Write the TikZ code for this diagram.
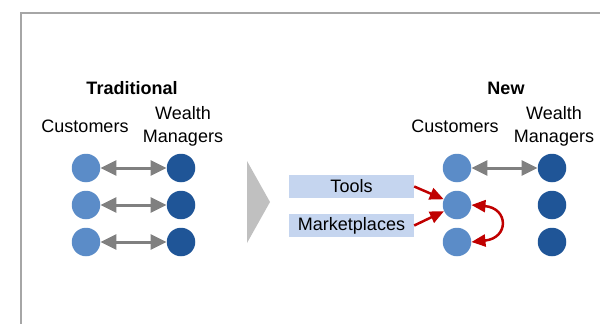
\documentclass[tikz,border=0pt]{standalone}
\usepackage{fontspec}
\setmainfont{Liberation Sans}
\usetikzlibrary{arrows.meta,positioning,calc}

\definecolor{custBlue}{HTML}{5B8CC8}
\definecolor{mgrBlue}{HTML}{1F5597}
\definecolor{boxBlue}{HTML}{C5D5EF}
\definecolor{linkGray}{HTML}{808080}
\definecolor{frameGray}{HTML}{A6A6A6}
\definecolor{chevGray}{HTML}{C0C0C0}
\definecolor{newRed}{HTML}{C00000}

\begin{document}
\begin{tikzpicture}[
    x=1pt, y=-1pt, font=\fontsize{18}{23}\selectfont,
    % Styles
    custNode/.style={circle, fill=custBlue, minimum size=28.5pt, inner sep=0pt},
    mgrNode/.style={circle, fill=mgrBlue, minimum size=28.5pt, inner sep=0pt},
    headNode/.style={font=\fontsize{18}{23}\selectfont\bfseries},
    toolNode/.style={fill=boxBlue, minimum width=125pt, minimum height=23pt, inner sep=0pt},
    linkArrow/.style={{Triangle[length=16pt,width=15pt]}-{Triangle[length=16pt,width=15pt]}, line width=3pt, linkGray},
    redArrow/.style={-{Triangle[length=14pt,width=12pt]}, line width=2.5pt, newRed}
]
\useasboundingbox (0,0) rectangle (600,324);

% ================= FRAME =================
\draw[line width=2pt, frameGray] (21,330) |- (610,13);

% ================= TRADITIONAL =================
\node[headNode] (tradHead) at (132,88) {Traditional};
\node (tradCust) at (85,126) {Customers};
\node[align=center] (tradMgr) at (183,126) {Wealth\\Managers};

\node[custNode] (c1) at (86,168) {};
\node[custNode] (c2) at (86,205) {};
\node[custNode] (c3) at (86,242) {};
\node[mgrNode] (m1) at (181,168) {};
\node[mgrNode] (m2) at (181,205) {};
\node[mgrNode] (m3) at (181,242) {};

\draw[linkArrow] (c1) -- (m1);
\draw[linkArrow] (c2) -- (m2);
\draw[linkArrow] (c3) -- (m3);

% ================= CHEVRON =================
\fill[chevGray] (247,161) -- (270,202) -- (247,243) -- cycle;

% ================= NEW =================
\node[headNode] (newHead) at (506,88) {New};
\node (newCust) at (455,126) {Customers};
\node[align=center] (newMgr) at (554,126) {Wealth\\Managers};

\node[custNode] (nc1) at (457,168) {};
\node[custNode] (nc2) at (457,205) {};
\node[custNode] (nc3) at (457,242) {};
\node[mgrNode] (nm1) at (552,168) {};
\node[mgrNode] (nm2) at (552,205) {};
\node[mgrNode] (nm3) at (552,242) {};

\node[toolNode] (tools) at (351.5,186.5) {Tools};
\node[toolNode] (market) at (351.5,225.5) {Marketplaces};

% ================= ARROWS =================
\draw[linkArrow] (nc1) -- (nm1);
\draw[redArrow] (tools.east) -- (nc2);
\draw[redArrow] (market.east) -- (nc2);
\draw[redArrow, {Triangle[length=14pt,width=12pt]}-{Triangle[length=14pt,width=12pt]}]
    (nc2.east) .. controls +(37,3) and +(38,-4) .. (nc3.east);

\end{tikzpicture}
\end{document}
